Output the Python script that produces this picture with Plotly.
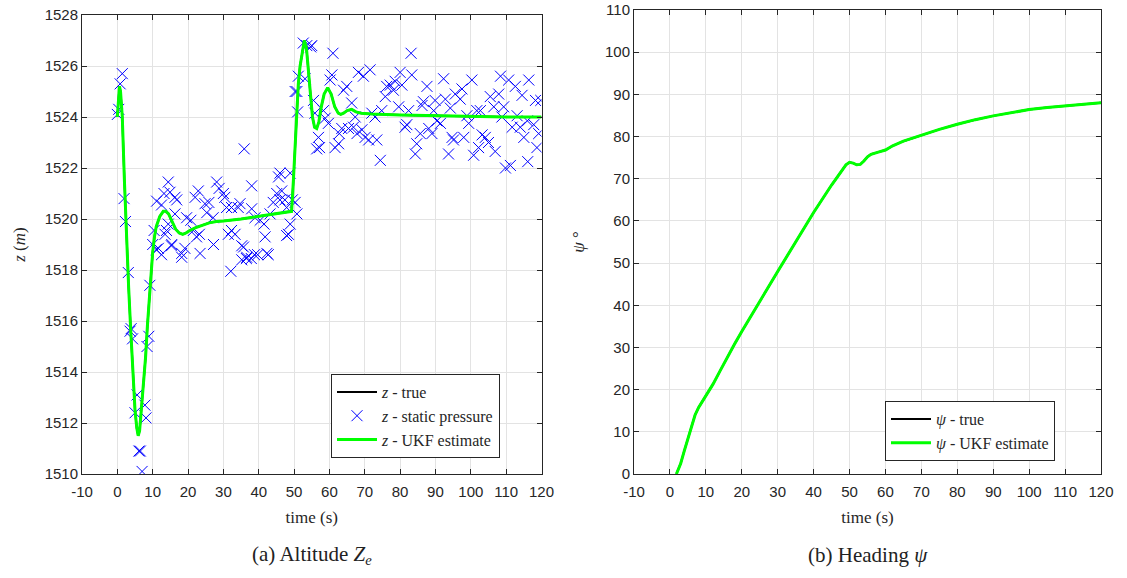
import plotly.graph_objects as go

# ---------------- data: altitude ----------------
t_est = [0, 0.3, 0.6, 0.9, 1.4, 2.0, 2.6, 3.2, 3.8, 4.4, 5.0, 5.5, 5.9, 6.3, 6.8, 7.3, 8.0, 8.5,
         9.0, 9.5, 10.0, 10.5, 11.0, 12.0, 13.0, 13.7, 14.5, 15.5, 16.5, 17.5, 18.5, 19.4, 20.5,
         22, 24, 26, 28, 30, 35, 40, 45, 48, 49.3, 49.8, 50.3, 50.8, 51.2, 51.7, 52.3, 52.9, 53.5,
         54.0, 54.6, 55.2, 55.8, 56.4, 57.0, 57.7, 58.5, 59.5, 60.5, 61.5, 62.5, 63.2, 64, 65,
         66.3, 67.5, 69, 72, 80, 90, 100, 110, 120]
z_est = [1524.0, 1524.8, 1525.2, 1525.0, 1524.0, 1521.5, 1519.0, 1517.3, 1515.6, 1513.9, 1512.5,
         1511.8, 1511.5, 1511.7, 1512.5, 1513.2, 1514.6, 1515.8, 1516.9, 1517.9, 1518.7, 1519.3,
         1519.7, 1520.1, 1520.3, 1520.3, 1520.2, 1519.9, 1519.6, 1519.45, 1519.4, 1519.45, 1519.55,
         1519.65, 1519.75, 1519.85, 1519.9, 1519.92, 1520.0, 1520.1, 1520.2, 1520.25, 1520.3, 1521.5,
         1523.0, 1524.5, 1525.3, 1526.0, 1526.6, 1527.0, 1526.7, 1525.8, 1524.8, 1524.0, 1523.6,
         1523.55, 1523.8, 1524.4, 1524.9, 1525.15, 1524.9, 1524.4, 1524.15, 1524.1, 1524.15, 1524.25,
         1524.3, 1524.2, 1524.15, 1524.12, 1524.08, 1524.05, 1524.03, 1524.0, 1524.0]
z_true = list(z_est)

t_meas = [0.0, 0.4, 0.8, 1.4, 1.9, 2.3, 3.1, 3.6, 3.9, 4.3, 5.0, 5.6, 6.1, 6.5, 7.0, 7.8, 8.1, 8.4,
          8.9, 9.2, 10.0,
          10.4, 11.0, 11.1, 11.6, 12.5, 12.5, 13.2, 13.5, 13.9, 14.4, 14.4, 14.9, 15.3, 15.4, 16.3,
          16.3, 16.8, 18.2, 18.2, 19.1, 19.6, 20.8, 21.5, 22.0, 22.4, 22.9, 23.2, 23.4, 24.8, 25.3,
          25.9, 27.1, 27.2, 28.1, 28.8, 30.0, 30.4, 30.9, 31.4, 32.1, 32.3, 32.3, 33.3, 34.2, 34.7,
          35.2, 35.2, 35.7, 35.9, 36.5, 36.6, 37.9, 38.0, 38.0, 38.8, 38.95, 39.7, 40.4, 41.5, 41.8,
          42.3, 42.7, 43.2, 44.1, 45.1, 45.6, 46.0, 46.0, 46.5, 47.4, 47.9, 47.9, 48.4, 48.9, 48.9,
          49.5, 50.3, 50.8,
          50.3, 50.8, 51.0, 51.2, 52.6, 53.1, 53.6, 54.7, 55.0, 55.5, 55.9, 56.4, 56.9, 57.2, 58.3,
          58.8, 59.7, 60.2, 60.7, 61.0, 61.6, 62.6, 62.8, 63.5, 64.0, 64.9, 65.4, 66.3, 66.8, 67.3,
          67.8, 68.2, 69.2, 69.6, 70.1, 71.1, 71.5, 72.0, 72.9, 73.4, 74.4, 74.8, 75.8, 76.2, 77.2,
          78.1, 78.6, 79.6, 80.0, 80.5, 81.4, 81.9, 82.4, 83.1, 83.3, 84.3, 84.7, 85.7, 86.2, 86.6,
          87.6, 88.1, 89.0, 89.5, 89.9, 90.4, 91.4, 92.3, 92.8, 93.7, 94.2, 94.7, 95.1, 95.6, 97.0,
          97.5, 98.0, 98.9, 99.4, 100.3, 100.8, 101.7, 102.2, 102.7, 103.2, 104.1, 105.0, 105.5,
          106.5, 106.9, 107.9, 108.4, 108.8, 109.3, 109.8, 110.7, 111.2, 111.7, 112.6, 113.1, 114.0,
          114.5, 115.0, 116.0, 116.1, 116.4, 117.8, 118.3, 118.7, 119.2, 119.8]
z_meas = [1524.1, 1524.3, 1525.3, 1525.7, 1520.8, 1519.9, 1517.9, 1515.6, 1515.7, 1515.3, 1512.4,
          1513.1, 1510.9, 1510.9, 1510.1, 1512.7, 1512.2, 1515.0, 1515.4, 1517.4, 1519.0,
          1519.55, 1518.8, 1520.7, 1518.85, 1520.55, 1518.6, 1521.0, 1519.4, 1519.55, 1521.45,
          1519.8, 1521.05, 1518.95, 1519.0, 1520.85, 1520.2, 1520.75, 1518.5, 1518.65, 1518.85,
          1520.05, 1519.95, 1519.55, 1520.85, 1519.3, 1521.1, 1519.4, 1518.65, 1520.6, 1520.25,
          1520.65, 1520.05, 1519.0, 1521.45, 1521.2, 1521.0, 1520.85, 1520.45, 1519.4, 1517.95,
          1519.55, 1520.45, 1519.4, 1520.45, 1520.6, 1518.4, 1518.95, 1518.9, 1522.75, 1518.45,
          1518.5, 1518.45, 1521.3, 1520.4, 1518.6, 1520.05, 1518.6, 1519.95, 1519.8, 1519.3,
          1518.65, 1518.6, 1520.2, 1520.65, 1521.0, 1521.65, 1521.8, 1520.75, 1521.1, 1520.75,
          1520.45, 1519.35, 1519.4, 1521.8, 1519.8, 1520.75, 1520.65, 1520.2,
          1525.0, 1525.0, 1524.2, 1525.6, 1526.9, 1525.5, 1526.8, 1526.75, 1526.8, 1524.65, 1524.15,
          1522.75, 1523.2, 1522.8, 1524.25, 1523.95, 1523.75, 1525.45, 1525.65, 1526.5, 1522.8,
          1522.95, 1523.35, 1523.55, 1525.05, 1525.2, 1523.55, 1524.55, 1523.6, 1524.0, 1523.35,
          1525.75, 1523.5, 1525.6, 1523.2, 1523.1, 1525.85, 1524.15, 1524.0, 1523.1, 1522.3,
          1524.25, 1524.8, 1525.2, 1525.25, 1525.05, 1525.4, 1524.4, 1525.75, 1525.25, 1523.6,
          1523.7, 1524.25, 1526.5, 1525.65, 1522.55, 1522.95, 1523.35, 1524.45, 1524.6, 1525.2,
          1523.55, 1523.35, 1524.25, 1524.65, 1523.85, 1523.75, 1525.5, 1524.7, 1522.55, 1524.35,
          1523.2, 1523.1, 1524.9, 1524.7, 1525.1, 1523.2, 1524.05, 1523.75, 1525.45, 1522.5,
          1524.25, 1522.8, 1524.25, 1523.3, 1523.2, 1523.0, 1524.8, 1524.4, 1522.65, 1524.9,
          1525.6, 1524.0, 1524.4, 1522.0, 1525.45, 1522.1, 1523.6, 1525.2, 1524.05, 1523.6,
          1524.85, 1523.2, 1523.85, 1522.25, 1525.45, 1523.7, 1524.65, 1522.8, 1523.35, 1524.65]

# ---------------- data: heading ----------------
t_psi = [1.8, 3, 4, 5, 6, 7, 8, 9, 10, 12, 14, 16, 18, 20, 25, 30, 35, 40, 45, 49, 50, 51, 52, 53,
         54, 55, 56, 57, 58, 60, 62, 65, 70, 75, 80, 85, 90, 95, 100, 105, 110, 115, 120]
psi_est = [0, 2.5, 5.5, 8.5, 11.5, 14.0, 15.8, 17.2, 18.5, 21.3, 24.5, 27.8, 30.8, 33.8, 41.0, 48.0,
           55.0, 62.0, 68.5, 73.3, 73.9, 73.7, 73.3, 73.4, 74.2, 75.2, 75.8, 76.1, 76.3, 76.8, 77.8,
           78.9, 80.3, 81.7, 82.9, 84.0, 84.9, 85.7, 86.4, 86.9, 87.3, 87.7, 88.0]
psi_true = list(psi_est)

x_ticks = list(range(-10, 121, 10))
x_ticktext = [str(v) for v in x_ticks]
z_ticks = list(range(1510, 1529, 2))
psi_ticks = list(range(0, 111, 10))

# ---------------- figure ----------------
W, H = 1127, 578
BLUE = "#0000FF"
GREEN = "#00FF00"
SERIF = "Liberation Serif"
SANS = "Liberation Sans"

fig = go.Figure()

fig.add_trace(go.Scatter(x=t_est, y=z_true, mode="lines", line=dict(color="black", width=2),
                         name="<i>z</i> - true", xaxis="x", yaxis="y", legend="legend"))
fig.add_trace(go.Scatter(x=t_meas, y=z_meas, mode="markers",
                         marker=dict(symbol="x-thin", size=11, line=dict(color=BLUE, width=1), color=BLUE),
                         name="<i>z</i> - static pressure", xaxis="x", yaxis="y", legend="legend"))
fig.add_trace(go.Scatter(x=t_est, y=z_est, mode="lines", line=dict(color=GREEN, width=3),
                         name="<i>z</i> - UKF estimate", xaxis="x", yaxis="y", legend="legend"))

fig.add_trace(go.Scatter(x=t_psi, y=psi_true, mode="lines", line=dict(color="black", width=2),
                         name="<i>ψ</i> - true", xaxis="x2", yaxis="y2", legend="legend2"))
fig.add_trace(go.Scatter(x=t_psi, y=psi_est, mode="lines", line=dict(color=GREEN, width=3),
                         name="<i>ψ</i> - UKF estimate", xaxis="x2", yaxis="y2", legend="legend2"))

axis_common = dict(showline=True, linecolor="#262626", linewidth=1, mirror="allticks",
                   ticks="inside", ticklen=5, tickcolor="#262626", automargin=False,
                   showgrid=True, gridcolor="#e3e3e3", gridwidth=1, zeroline=False,
                   tickfont=dict(family=SANS, size=15, color="#262626"))

xd1 = [82 / W, 541.5 / W]
xd2 = [634 / W, 1101 / W]
yd1 = [1 - 474 / H, 1 - 15 / H]
yd2 = [1 - 474 / H, 1 - 10 / H]

title_font = dict(family=SERIF, size=17, color="#262626")
leg_font = dict(family=SERIF, size=16, color="#262626")

fig.update_layout(
    width=W, height=H, autosize=False,
    margin=dict(l=0, r=0, t=0, b=0),
    paper_bgcolor="white", plot_bgcolor="white",
    showlegend=True,
    xaxis=dict(domain=xd1, range=[-10, 120], tickvals=x_ticks, ticktext=x_ticktext, anchor="y",
               ticklabelstandoff=4,
               title=dict(text="time (s)", font=title_font, standoff=12),
               **axis_common),
    yaxis=dict(domain=yd1, range=[1510, 1528], tickvals=z_ticks, anchor="x",
               title=dict(text="<i>z</i> (<i>m</i>)", font=title_font, standoff=14),
               **axis_common),
    xaxis2=dict(domain=xd2, range=[-10, 120], tickvals=x_ticks, ticktext=x_ticktext, anchor="y2",
                ticklabelstandoff=4,
                title=dict(text="time (s)", font=title_font, standoff=12),
                **axis_common),
    yaxis2=dict(domain=yd2, range=[0, 110], tickvals=psi_ticks, anchor="x2",
                title=dict(text="<i>ψ</i> °", font=title_font, standoff=16),
                **axis_common),
    legend=dict(x=331 / W, y=1 - 458 / H, xanchor="left", yanchor="bottom",
                bgcolor="white", bordercolor="#262626", borderwidth=1,
                font=leg_font, tracegroupgap=0, itemwidth=40),
    legend2=dict(x=885 / W, y=1 - 461 / H, xanchor="left", yanchor="bottom",
                 bgcolor="white", bordercolor="#262626", borderwidth=1,
                 font=leg_font, tracegroupgap=0, itemwidth=40),
    annotations=[
        dict(text="(a) Altitude <i>Z<sub>e</sub></i>", x=(xd1[0] + xd1[1]) / 2, y=1 - 555 / H,
             xref="paper", yref="paper", showarrow=False, xanchor="center", yanchor="middle",
             font=dict(family=SERIF, size=21, color="#222222")),
        dict(text="(b) Heading <i>ψ</i>", x=(xd2[0] + xd2[1]) / 2, y=1 - 555 / H,
             xref="paper", yref="paper", showarrow=False, xanchor="center", yanchor="middle",
             font=dict(family=SERIF, size=21, color="#222222")),
    ],
)

fig.write_html("out.html")
